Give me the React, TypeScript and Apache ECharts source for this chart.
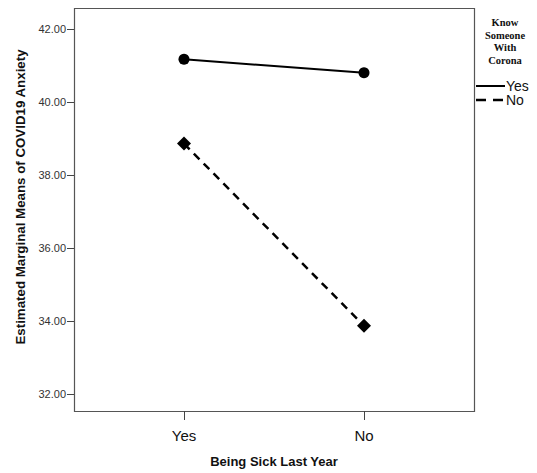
import React, { useEffect, useRef } from "react";
import * as echarts from "echarts";

const categories = ["Yes", "No"];
const knowYes = [41.17, 40.8];
const knowNo = [38.86, 33.87];
const yTicks = [32, 34, 36, 38, 40, 42];
const legendTitle = ["Know", "Someone", "With", "Corona"];
const legendItems = ["Yes", "No"];

export default function App() {
  const ref = useRef<HTMLDivElement>(null);
  useEffect(() => {
    if (!ref.current) return;
    const chart = echarts.init(ref.current, undefined, { renderer: "svg" });
    const sans = "Liberation Sans, Arial, sans-serif";
    const serif = "Liberation Serif, Times New Roman, serif";
    chart.setOption({
      animation: false,
      backgroundColor: "#fff",
      grid: { left: 184, right: 173, top: 29, bottom: 79 },
      xAxis: {
        type: "category",
        data: categories,
        boundaryGap: false,
        offset: 17,
        axisLine: { show: false },
        axisTick: { show: true, length: 9, lineStyle: { color: "#444", width: 1 } },
        axisLabel: { margin: 17, fontSize: 15, color: "#111", fontFamily: sans },
        name: "Being Sick Last Year",
        nameLocation: "middle",
        nameGap: 44,
        nameTextStyle: { fontSize: 13, fontWeight: "bold", color: "#111", fontFamily: sans, verticalAlign: "top" },
      },
      yAxis: {
        type: "value",
        min: yTicks[0],
        max: yTicks[yTicks.length - 1],
        interval: 2,
        offset: 110,
        axisLine: { show: false },
        splitLine: { show: false },
        axisTick: { show: true, length: 7, lineStyle: { color: "#444", width: 1 } },
        axisLabel: {
          margin: 8,
          fontSize: 11,
          color: "#333",
          fontFamily: sans,
          formatter: (v: number) => v.toFixed(2),
        },
      },
      graphic: [
        {
          type: "rect",
          shape: { x: 74.5, y: 8.5, width: 400, height: 403 },
          style: { fill: "none", stroke: "#555", lineWidth: 1.2 },
          silent: true,
          z: -1,
        },
        {
          type: "text",
          x: 20,
          y: 197,
          rotation: Math.PI / 2,
          style: {
            text: "Estimated Marginal Means of COVID19 Anxiety",
            fontSize: 13.3,
            fontWeight: "bold",
            fill: "#111",
            fontFamily: sans,
            textAlign: "center",
            textVerticalAlign: "middle",
          },
        },
        ...legendTitle.map((t, i) => ({
          type: "text",
          x: 505,
          y: 22.5 + i * 12.5,
          style: {
            text: t,
            fontSize: 10.5,
            fontWeight: "bold",
            fill: "#111",
            fontFamily: serif,
            textAlign: "center",
            textVerticalAlign: "middle",
          },
        })),
        {
          type: "line",
          shape: { x1: 476, y1: 86, x2: 505, y2: 86 },
          style: { stroke: "#000", lineWidth: 2 },
        },
        {
          type: "line",
          shape: { x1: 476, y1: 100, x2: 505, y2: 100 },
          style: { stroke: "#000", lineWidth: 2.5, lineDash: [10, 7] },
        },
        ...legendItems.map((t, i) => ({
          type: "text",
          x: 506,
          y: 85.5 + i * 14.5,
          style: {
            text: t,
            fontSize: 14,
            fill: "#111",
            fontFamily: sans,
            textAlign: "left",
            textVerticalAlign: "middle",
          },
        })),
      ],
      series: [
        {
          name: "Yes",
          type: "line",
          data: knowYes,
          symbol: "circle",
          symbolSize: 11,
          lineStyle: { color: "#000", width: 2 },
          itemStyle: { color: "#000" },
        },
        {
          name: "No",
          type: "line",
          data: knowNo,
          symbol: "diamond",
          symbolSize: 14,
          lineStyle: { color: "#000", width: 2.5, type: [8, 6] },
          itemStyle: { color: "#000" },
        },
      ],
    });
    return () => chart.dispose();
  }, []);
  return (
    <div
      ref={ref}
      style={{ position: "fixed", left: 0, top: 0, width: 537, height: 473 }}
    />
  );
}
